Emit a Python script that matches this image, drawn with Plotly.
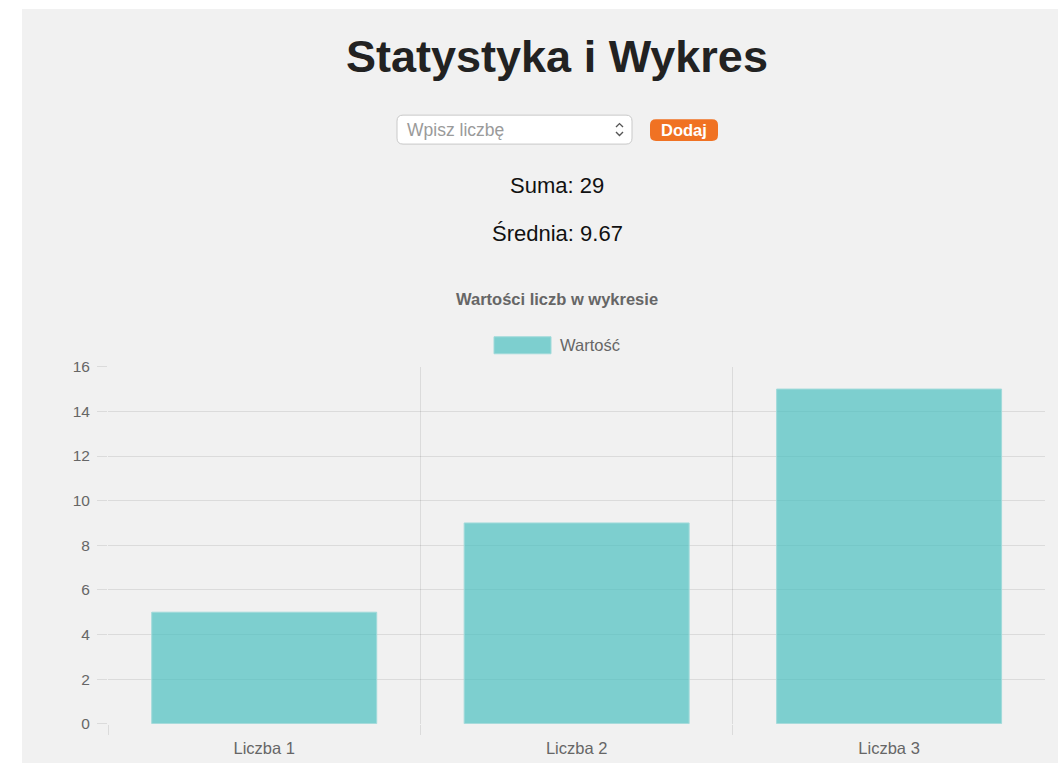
import plotly.graph_objects as go

# Data
categories = ["Liczba 1", "Liczba 2", "Liczba 3"]
values = [5, 9, 15]
series_name = "Wartość"
y_ticks = [0, 2, 4, 6, 8, 10, 12, 14, 16]

total = sum(values)
mean = total / len(values)

# page layout: positions below are given in page pixels; the figure sits
# OFF px below the top of the page and is shown at SCALE vertically
PAGE_W, PAGE_H = 1059, 763
OFF, SCALE = 7.7, 0.9795
W, H = PAGE_W, 772
FONT = "Liberation Sans, Arial, Helvetica, sans-serif"
TEAL_FILL = "rgba(75,192,192,0.7)"
TEAL_EDGE = "rgba(160,218,218,1)"
GRID = "rgba(0,0,0,0.09)"


def X(px):
    """page x pixel -> paper fraction"""
    return px / W


def Y(py):
    """page y pixel -> paper fraction"""
    return 1 - ((py - OFF) / SCALE) / H


def rounded_rect(x0, y0, x1, y1, r):
    """SVG path for a rounded rectangle given in page pixels, returned in paper units."""
    pts = [
        f"M {X(x0 + r)} {Y(y0)}",
        f"L {X(x1 - r)} {Y(y0)}",
        f"Q {X(x1)} {Y(y0)} {X(x1)} {Y(y0 + r)}",
        f"L {X(x1)} {Y(y1 - r)}",
        f"Q {X(x1)} {Y(y1)} {X(x1 - r)} {Y(y1)}",
        f"L {X(x0 + r)} {Y(y1)}",
        f"Q {X(x0)} {Y(y1)} {X(x0)} {Y(y1 - r)}",
        f"L {X(x0)} {Y(y0 + r)}",
        f"Q {X(x0)} {Y(y0)} {X(x0 + r)} {Y(y0)}",
        "Z",
    ]
    return " ".join(pts)


fig = go.Figure()
fig.add_trace(
    go.Bar(
        x=categories,
        y=values,
        name=series_name,
        marker=dict(color=TEAL_FILL, line=dict(color=TEAL_EDGE, width=1)),
        showlegend=False,
        hoverinfo="x+y",
    )
)

shapes = [
    # page panel
    dict(type="rect", xref="paper", yref="paper", x0=X(22), x1=X(1058), y0=0, y1=1,
         fillcolor="#f1f1f1", line=dict(width=0), layer="below"),
    # number input
    dict(type="path", xref="paper", yref="paper", path=rounded_rect(397, 114, 632, 143, 6),
         fillcolor="#ffffff", line=dict(color="#c9c9c9", width=1), layer="above"),
    # spinner chevrons
    dict(type="path", xref="paper", yref="paper",
         path=f"M {X(616)} {Y(126)} L {X(619.5)} {Y(122.5)} L {X(623)} {Y(126)}",
         line=dict(color="#555555", width=1.4)),
    dict(type="path", xref="paper", yref="paper",
         path=f"M {X(616)} {Y(131)} L {X(619.5)} {Y(134.5)} L {X(623)} {Y(131)}",
         line=dict(color="#555555", width=1.4)),
    # add button
    dict(type="path", xref="paper", yref="paper", path=rounded_rect(650, 118, 718, 140, 6),
         fillcolor="#f07223", line=dict(width=0), layer="above"),
    # legend swatch
    dict(type="rect", xref="paper", yref="paper", x0=X(494), x1=X(551), y0=Y(353), y1=Y(336),
         fillcolor=TEAL_FILL, line=dict(color=TEAL_EDGE, width=1)),
]

annotations = [
    dict(text="<b>Statystyka i Wykres</b>", x=X(557), y=Y(55), font=dict(size=45, color="#222222")),
    dict(text="Wpisz liczbę", x=X(405), y=Y(129), xanchor="left",
         font=dict(size=17.5, color="#9a9a9a")),
    dict(text="<b>Dodaj</b>", x=X(684), y=Y(129), font=dict(size=16.5, color="#ffffff")),
    dict(text=f"Suma: {total}", x=X(557), y=Y(184), font=dict(size=22, color="#111111")),
    dict(text=f"Średnia: {mean:.2f}", x=X(557), y=Y(233), font=dict(size=22, color="#111111")),
    dict(text="<b>Wartości liczb w wykresie</b>", x=X(557), y=Y(298.5),
         font=dict(size=16.5, color="#666666")),
    dict(text=series_name, x=X(558), y=Y(344), xanchor="left", font=dict(size=16.5, color="#666666")),
]
for a in annotations:
    a.update(xref="paper", yref="paper", showarrow=False)
    a.setdefault("xanchor", "center")
    a["yanchor"] = "middle"
    a["font"]["family"] = FONT

fig.update_layout(
    width=W,
    height=H,
    autosize=False,
    margin=dict(l=0, r=0, t=0, b=0),
    paper_bgcolor="#ffffff",
    plot_bgcolor="rgba(0,0,0,0)",
    bargap=0.28,
    font=dict(family=FONT, color="#666666", size=16),
    shapes=shapes,
    annotations=annotations,
    showlegend=False,
    xaxis=dict(
        domain=[X(108), X(1045)],
        type="category",
        range=[-0.5, 2.499],
        tickson="boundaries",
        showgrid=True,
        gridcolor=GRID,
        gridwidth=1,
        ticks="outside",
        ticklen=10,
        tickcolor=GRID,
        showline=False,
        zeroline=False,
        tickfont=dict(size=16.5, color="#666666"),
        ticklabelstandoff=13,
        fixedrange=True,
    ),
    yaxis=dict(
        domain=[Y(723.6), Y(366)],
        range=[0, 16],
        tickvals=y_ticks,
        showgrid=True,
        gridcolor=GRID,
        gridwidth=1,
        ticks="outside",
        ticklen=10,
        tickcolor=GRID,
        showline=False,
        zeroline=False,
        tickfont=dict(size=15.5, color="#666666"),
        ticklabelstandoff=4,
        fixedrange=True,
    ),
)

fig.write_html("out.html", config={"displayModeBar": False})
